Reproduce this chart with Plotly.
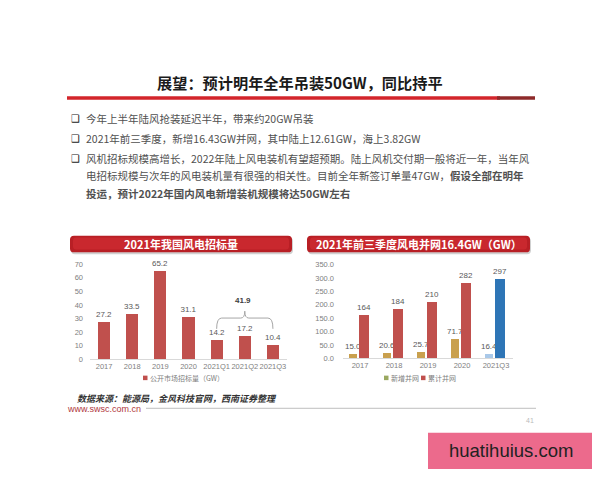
import plotly.graph_objects as go

# the page body has an 8px margin, so the figure is offset by 8px
OX, OY = 8, 8
FW, FH = 592, 472

# ---------------- data ----------------
bid_cats = ["2017", "2018", "2019", "2020", "2021Q1", "2021Q2", "2021Q3"]
bid_vals = [27.2, 33.5, 65.2, 31.1, 14.2, 17.2, 10.4]
bid_sum_label = "41.9"

grid_cats = ["2017", "2018", "2019", "2020", "2021Q3"]
grid_new = [15.0, 20.6, 25.7, 71.7, 16.4]
grid_cum = [164, 184, 210, 282, 297]

title_text = "展望：预计明年全年吊装50GW，同比持平"
bullet_lines = [
    "今年上半年陆风抢装延迟半年，带来约20GW吊装",
    "2021年前三季度，新增16.43GW并网，其中陆上12.61GW，海上3.82GW",
    "风机招标规模高增长，2022年陆上风电装机有望超预期。陆上风机交付期一般将近一年，当年风",
    "电招标规模与次年的风电装机量有很强的相关性。目前全年新签订单量47GW，<b>假设全部在明年</b>",
    "<b>投运，预计2022年国内风电新增装机规模将达50GW左右</b>",
]

CJK = "Noto Sans CJK SC, sans-serif"
LAT = "Liberation Sans, Arial, sans-serif"


def px(x):
    return (x - OX) / FW


def py(y):
    return 1 - (y - OY) / FH


def rrect(x0, y0, x1, y1, r):
    X0, X1 = px(x0), px(x1)
    Y0, Y1 = py(y0), py(y1)
    rx, ry = r / FW, r / FH
    return (f"M {X0+rx},{Y0} L {X1-rx},{Y0} Q {X1},{Y0} {X1},{Y0-ry} "
            f"L {X1},{Y1+ry} Q {X1},{Y1} {X1-rx},{Y1} L {X0+rx},{Y1} "
            f"Q {X0},{Y1} {X0},{Y1+ry} L {X0},{Y0-ry} Q {X0},{Y0} {X0+rx},{Y0} Z")


fig = go.Figure()

# left chart bars
fig.add_trace(go.Bar(
    x=bid_cats, y=bid_vals, xaxis="x", yaxis="y",
    marker=dict(color="#c0504d", line=dict(width=0)),
    width=0.43,
    text=[f"{v:.1f}" for v in bid_vals], textposition="outside",
    textfont=dict(size=8, color="#595959", family=LAT),
    constraintext="none", cliponaxis=False, showlegend=False,
))

# right chart bars
new_colors = ["#c9a04e"] * (len(grid_cats) - 1) + ["#a9c8e8"]
cum_colors = ["#c0504d"] * (len(grid_cats) - 1) + ["#2e75b6"]
fig.add_trace(go.Bar(
    x=grid_cats, y=grid_new, xaxis="x2", yaxis="y2",
    marker=dict(color=new_colors, line=dict(width=0)),
    width=0.22, offset=-0.31,
    text=[f"{v:.1f}" for v in grid_new], textposition="outside",
    textfont=dict(size=8, color="#595959", family=LAT),
    constraintext="none", cliponaxis=False, showlegend=False,
))
fig.add_trace(go.Bar(
    x=grid_cats, y=grid_cum, xaxis="x2", yaxis="y2",
    marker=dict(color=cum_colors, line=dict(width=0)),
    width=0.29, offset=-0.04,
    text=[f"{v:d}" for v in grid_cum], textposition="outside",
    textfont=dict(size=8, color="#595959", family=LAT),
    constraintext="none", cliponaxis=False, showlegend=False,
))

axis_common = dict(showgrid=False, zeroline=False, ticks="",
                   tickfont=dict(size=7.5, color="#808080", family=LAT))

L_X0, L_X1, L_YB, L_YT = 90, 287, 362, 265
R_X0, R_X1, R_YB, R_YT = 343, 513, 361, 265.7

fig.update_layout(
    width=FW, height=FH, margin=dict(l=0, r=0, t=0, b=0),
    paper_bgcolor="white", plot_bgcolor="rgba(0,0,0,0)",
    barmode="group", bargap=0,
    xaxis=dict(domain=[px(L_X0), px(L_X1)], anchor="y", type="category",
               tickangle=0, range=[-0.5, len(bid_cats) - 0.5],
               showline=True, linecolor="#d9d9d9", linewidth=1, **axis_common),
    yaxis=dict(domain=[py(L_YB), py(L_YT)], anchor="x", range=[0, 70], dtick=10,
               showline=False, ticklabelstandoff=6, **axis_common),
    xaxis2=dict(domain=[px(R_X0), px(R_X1)], anchor="y2", type="category",
                tickangle=0, range=[-0.5, len(grid_cats) - 0.5],
                showline=True, linecolor="#d9d9d9", linewidth=1, **axis_common),
    yaxis2=dict(domain=[py(R_YB), py(R_YT)], anchor="x2", range=[0, 350], dtick=50,
                tickformat=".1f", showline=False, ticklabelstandoff=8, **axis_common),
)

shapes = []
ann = []


def add_text(x, y, text, size, color, family, xanchor="left"):
    ann.append(dict(x=px(x), y=py(y), xref="paper", yref="paper", text=text,
                    showarrow=False, xanchor=xanchor, yanchor="middle",
                    borderpad=0, font=dict(size=size, color=color, family=family)))


# title + red rule
add_text(300, 79, f"<b>{title_text}</b>", 15.2, "#1a1a1a", CJK, "center")
shapes.append(dict(type="rect", xref="paper", yref="paper", x0=px(67), x1=px(500),
                   y0=py(97.5), y1=py(94), fillcolor="#d3252b", line=dict(width=0)))
shapes.append(dict(type="rect", xref="paper", yref="paper", x0=px(497), x1=px(535),
                   y0=py(97.5), y1=py(94), fillcolor="#8e2a2a", line=dict(width=0)))

# bullets
bullet_y = [117, 137, 157, 175, 193]
bullet_marks = [True, True, True, False, False]
for t, yv, m in zip(bullet_lines, bullet_y, bullet_marks):
    if m:
        add_text(70, yv, "❑", 10, "#222", "DejaVu Sans")
    add_text(85, yv, t, 10.5, "#505050", CJK)

# chart headers
for (x0, x1, txt) in [(70, 292, "2021年我国风电招标量"),
                      (307, 530, "2021年前三季度风电并网16.4GW（GW）")]:
    shapes.append(dict(type="path", xref="paper", yref="paper",
                       path=rrect(x0 + 1, 238, x1 + 1, 255, 4),
                       fillcolor="rgba(120,120,120,0.35)", line=dict(width=0)))
    shapes.append(dict(type="path", xref="paper", yref="paper",
                       path=rrect(x0, 236, x1, 253, 4),
                       fillcolor="#b81f25", line=dict(width=0)))
    shapes.append(dict(type="path", xref="paper", yref="paper",
                       path=rrect(x0 + 3, 238, x1 - 3, 250, 3),
                       fillcolor="#c9282e", line=dict(width=0)))
    add_text((x0 + x1) / 2, 244.5, f"<b>{txt}</b>", 11, "white", CJK, "center")

# brace over 2021Q1-Q3 (left chart)
step = (L_X1 - L_X0) / len(bid_cats)
bx0 = L_X0 + (4 + 0.5) * step
bx1 = L_X0 + (6 + 0.5) * step
bxm = (bx0 + bx1) / 2
ytop, yend, ypk = 320, 331, 313
brace = (f"M {px(bx0)},{py(yend)} Q {px(bx0)},{py(ytop)} {px(bx0+5)},{py(ytop)} "
         f"L {px(bxm-4)},{py(ytop)} Q {px(bxm)},{py(ytop)} {px(bxm)},{py(ypk)} "
         f"Q {px(bxm)},{py(ytop)} {px(bxm+4)},{py(ytop)} "
         f"L {px(bx1-5)},{py(ytop)} Q {px(bx1)},{py(ytop)} {px(bx1)},{py(yend)}")
shapes.append(dict(type="path", xref="paper", yref="paper", path=brace,
                   line=dict(color="#a6a6a6", width=1)))
add_text(bxm - 2, 302, f"<b>{bid_sum_label}</b>", 8, "#404040", LAT, "center")


# legends
def legend_item(x, y, color, label):
    shapes.append(dict(type="rect", xref="paper", yref="paper",
                       x0=px(x), x1=px(x + 4.5), y0=py(y + 2.3), y1=py(y - 2.3),
                       fillcolor=color, line=dict(width=0)))
    add_text(x + 5.5, y, label, 7, "#808080", CJK)


legend_item(143, 381, "#c0504d", "公开市场招标量（GW）")
legend_item(384, 381, "#9aa860", "新增并网")
legend_item(421, 381, "#c0504d", "累计并网")

# footer
add_text(76, 402, "<b><i>数据来源：能源局，金风科技官网，西南证券整理</i></b>", 9, "#333", CJK)
add_text(66, 413, "www.swsc.com.cn", 9, "#b0373d", LAT)
shapes.append(dict(type="line", xref="paper", yref="paper", x0=px(146), x1=px(536),
                   y0=py(412), y1=py(412), line=dict(color="#bfbfbf", width=1)))
add_text(530, 424, "41", 7, "#bbbbbb", LAT, "center")

# watermark
shapes.append(dict(type="rect", xref="paper", yref="paper", x0=px(428), x1=px(592),
                   y0=py(474), y1=py(437), fillcolor="#ec6a8c", line=dict(width=0)))
add_text(511, 455.5, "huatihuius.com", 18.5, "#222", LAT, "center")

fig.update_layout(shapes=shapes, annotations=ann)
fig.write_html("out.html")
